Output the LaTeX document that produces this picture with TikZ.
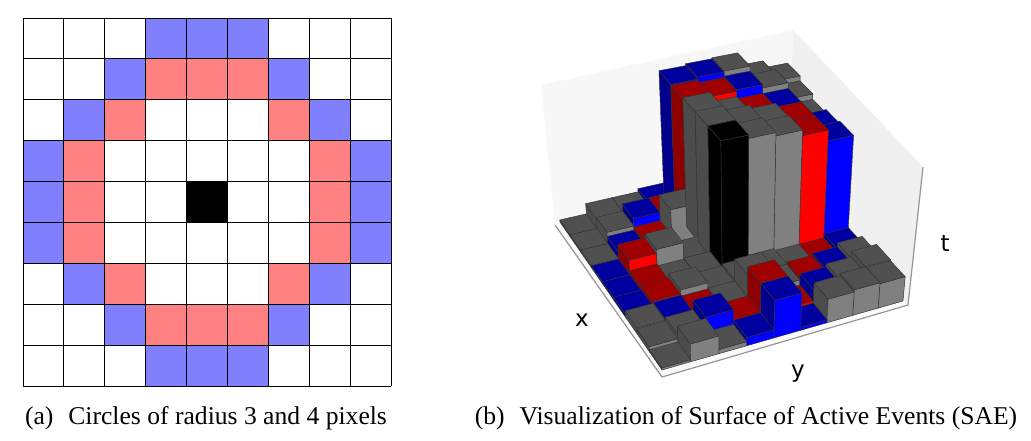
\documentclass[tikz,border=0pt]{standalone}
\usepackage{fontspec}
\setmainfont{Liberation Serif}
\newfontfamily\plotfont{DejaVu Sans}
\definecolor{cellblue}{RGB}{128,128,255}
\definecolor{cellred}{RGB}{255,128,128}
\definecolor{gT}{RGB}{80,80,80}\definecolor{gL}{RGB}{128,128,128}\definecolor{gD}{RGB}{76,76,76}
\definecolor{bT}{RGB}{0,0,160}\definecolor{bL}{RGB}{0,0,255}\definecolor{bD}{RGB}{0,0,140}
\definecolor{rT}{RGB}{160,0,0}\definecolor{rL}{RGB}{255,0,0}\definecolor{rD}{RGB}{140,0,0}
\definecolor{kT}{RGB}{0,0,0}\definecolor{kL}{RGB}{0,0,0}\definecolor{kD}{RGB}{0,0,0}
\definecolor{wallL}{RGB}{247,247,247}\definecolor{wallR}{RGB}{240,240,240}
\definecolor{edgegray}{RGB}{150,150,150}
% projection: unit floor square (a,b) and height h
\newcommand{\projpt}[4]{%
  \pgfmathsetmacro\wq{-0.1033*#2+0.07537*#3+1-0.054*#4}%
  \pgfmathsetmacro\xq{(33.62*#2+284.16*#3+560-0.054*#4*740)/\wq}%
  \pgfmathsetmacro\yq{(109.78*#2-39.19*#3+222-0.054*#4*2100)/\wq}%
  \coordinate (#1) at (\xq,\yq);}
\newcommand{\barcell}[4]{%
  \pgfmathsetmacro\az{#1/9}\pgfmathsetmacro\aa{(#1+1)/9}%
  \pgfmathsetmacro\bz{#2/9}\pgfmathsetmacro\ba{(#2+1)/9}%
  \projpt{p00}{\az}{\bz}{0}\projpt{p10}{\aa}{\bz}{0}\projpt{p11}{\aa}{\ba}{0}%
  \projpt{q00}{\az}{\bz}{#4}\projpt{q10}{\aa}{\bz}{#4}\projpt{q11}{\aa}{\ba}{#4}\projpt{q01}{\az}{\ba}{#4}%
  \filldraw[barface,fill=#3D] (p00)--(p10)--(q10)--(q00)--cycle;
  \filldraw[barface,fill=#3L] (p10)--(p11)--(q11)--(q10)--cycle;
  \filldraw[barface,fill=#3T] (q00)--(q10)--(q11)--(q01)--cycle;}
\tikzset{
  gridline/.style={draw=black,line width=0.8pt},
  barface/.style={draw=black!80,line width=0.45pt,line join=round},
  captiontext/.style={font=\fontsize{25.6}{28}\selectfont,inner sep=0pt,anchor=base},
  axistext/.style={font=\plotfont\fontsize{23}{26}\selectfont,inner sep=0pt,anchor=base}
}
\begin{document}
\begin{tikzpicture}[x=1pt,y=-1pt]
\useasboundingbox (0,0) rectangle (1031,440);
\fill[white] (0,0) rectangle (1031,440);
% ---- figure (a)
\foreach \r/\cc/\col in {0/3/cellblue,0/4/cellblue,0/5/cellblue,
  1/2/cellblue,1/3/cellred,1/4/cellred,1/5/cellred,1/6/cellblue,
  2/1/cellblue,2/2/cellred,2/6/cellred,2/7/cellblue,
  3/0/cellblue,3/1/cellred,3/7/cellred,3/8/cellblue,
  4/0/cellblue,4/1/cellred,4/4/black,4/7/cellred,4/8/cellblue,
  5/0/cellblue,5/1/cellred,5/7/cellred,5/8/cellblue,
  6/1/cellblue,6/2/cellred,6/6/cellred,6/7/cellblue,
  7/2/cellblue,7/3/cellred,7/4/cellred,7/5/cellred,7/6/cellblue,
  8/3/cellblue,8/4/cellblue,8/5/cellblue}
  \fill[\col] ({23+\cc*40.89},{18+\r*40.89}) rectangle ++(40.89,40.89);
\foreach \n in {0,...,9}{
  \draw[gridline] ({23+\n*40.89},18) -- ({23+\n*40.89},386);
  \draw[gridline] (23,{18+\n*40.89}) -- (391,{18+\n*40.89});
}
% ---- figure (b) panes
\fill[wallL] (541,85)--(793,30)--(789,167)--(555,225)--cycle;
\fill[wallR] (793,30)--(923,167)--(908,305)--(789,167)--cycle;
\fill[white!98!black] (555,225)--(789,167)--(908,305)--(662,377)--cycle;
\draw[edgegray,line width=1.2pt,line join=round] (555,225)--(662,377)--(908,305)--(923,167);
% ---- bars, far to near
\foreach \i/\rowdata in {
 0/{8/g/1.045,7/g/1.11,6/g/1.226,5/b/1.217,3/b/.15,4/b/1.2,2/g/.12,1/g/.12,0/g/.02},
 1/{8/g/1.0,7/g/1.15,6/b/1.18,5/r/1.167,3/r/.2,4/r/1.19,2/b/.2,1/g/.13,0/g/.02},
 2/{8/g/.95,7/b/1.098,6/r/1.1,5/g/1.12,3/g/.37,4/g/1.205,2/r/.12,1/b/.09,0/g/.02},
 3/{8/b/.98,7/r/1.1,6/g/1.136,5/g/1.167,3/g/.05,4/g/1.21,2/g/.2,1/r/.16,0/b/.02},
 4/{8/b/1.0,7/r/1.1,6/g/1.15,5/g/1.18,4/k/1.21,3/g/.05,2/g/.04,1/r/.06,0/b/.02},
 5/{8/b/.12,7/r/.08,6/g/.08,5/g/.1,4/g/.08,3/g/.06,2/g/.12,1/r/.08,0/b/.03},
 6/{8/g/.18,7/b/.14,6/r/.12,5/g/.1,4/g/.28,3/g/.07,2/r/.06,1/b/.07,0/g/.06},
 7/{8/g/.25,7/g/.19,6/b/.16,5/r/.05,4/r/.36,3/r/.08,2/b/.18,1/g/.09,0/g/.05},
 8/{8/g/.24,7/g/.25,6/g/.23,5/b/.03,4/b/.36,3/b/.08,2/g/.04,1/g/.17,0/g/.02}}{
  \foreach \j/\c/\h in \rowdata { \barcell{\i}{\j}{\c}{\h} }
}
% ---- labels
\node[axistext] (labelx) at (582,326) {x};
\node[axistext] (labely) at (798,377) {y};
\node[axistext] (labelt) at (945,251) {t};
\node[captiontext] (capa) at (206,424) {(a)\,\, Circles of radius 3 and 4 pixels};
\node[captiontext] (capb) at (746,424) {(b)\,\, Visualization of Surface of Active Events (SAE)};
\end{tikzpicture}
\end{document}
